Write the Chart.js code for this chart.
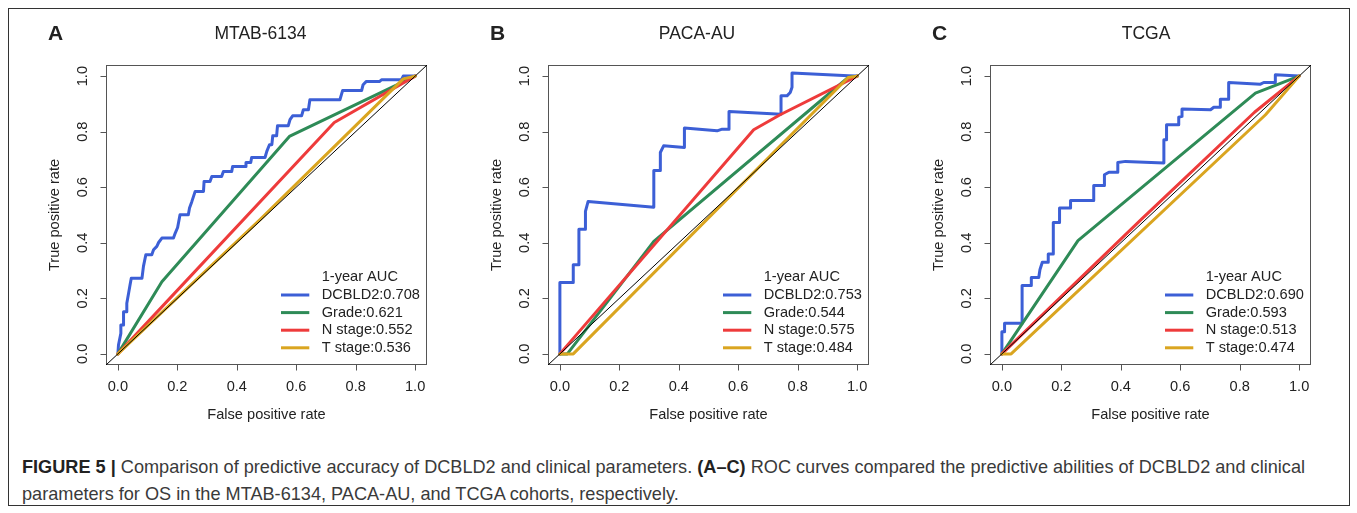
<!DOCTYPE html>
<html>
<head>
<meta charset="utf-8">
<script src="https://cdn.jsdelivr.net/npm/chart.js@4.4.1/dist/chart.umd.min.js"></script>
<style>
  html, body { margin: 0; padding: 0; background: #fff; }
  body { width: 1357px; height: 513px; position: relative; overflow: hidden; }
  #frame { position: absolute; left: 8px; top: 8px; width: 1342px; height: 498px; border: 1px solid #333; box-sizing: border-box; }
  canvas.panel { position: absolute; top: 8px; }
  .caption { position: absolute; left: 22px; font-family: "Liberation Sans Narrow", "Liberation Sans", Arial, sans-serif;
             font-size: 18.5px; color: #3a3a3a; white-space: nowrap; transform-origin: 0 50%; line-height: 20px; }
  .caption b { color: #222; }
</style>
</head>
<body>
<div id="frame"></div>
<canvas class="panel" id="panelA" width="442" height="432" style="left:8px"></canvas>
<canvas class="panel" id="panelB" width="442" height="432" style="left:450px"></canvas>
<canvas class="panel" id="panelC" width="442" height="432" style="left:892px"></canvas>
<div class="caption" id="cap1" style="top:457px"><b>FIGURE 5 |</b> Comparison of predictive accuracy of DCBLD2 and clinical parameters. <b>(A–C)</b> ROC curves compared the predictive abilities of DCBLD2 and clinical</div>
<div class="caption" id="cap2" style="top:484px">parameters for OS in the MTAB-6134, PACA-AU, and TCGA cohorts, respectively.</div>

<script>
// ---- data ----
const tickValues = [0, 0.2, 0.4, 0.6, 0.8, 1.0];
const tickLabels = ['0.0', '0.2', '0.4', '0.6', '0.8', '1.0'];
const seriesNames = ['DCBLD2', 'Grade', 'N stage', 'T stage'];
const panelLetters = ['A', 'B', 'C'];
const panelTitles = ['MTAB-6134', 'PACA-AU', 'TCGA'];
const aucMtab = [0.708, 0.621, 0.552, 0.536];
const aucPaca = [0.753, 0.544, 0.575, 0.484];
const aucTcga = [0.690, 0.593, 0.513, 0.474];
const diagLine = [[-0.04, -0.04], [1.04, 1.04]];

// MTAB-6134
const mtabDcbld2 = [[0,0],[0.002,0.032],[0.01,0.074],[0.01,0.104],[0.019,0.104],[0.019,0.152],[0.028,0.152],
  [0.030,0.182],[0.036,0.218],[0.041,0.249],[0.045,0.272],[0.081,0.272],[0.086,0.315],[0.094,0.357],
  [0.114,0.357],[0.12,0.375],[0.131,0.387],[0.137,0.401],[0.148,0.417],[0.187,0.417],[0.193,0.435],
  [0.201,0.455],[0.209,0.501],[0.237,0.501],[0.241,0.525],[0.249,0.549],[0.26,0.585],[0.288,0.585],
  [0.290,0.621],[0.31,0.621],[0.316,0.639],[0.349,0.639],[0.355,0.657],[0.383,0.657],[0.386,0.675],
  [0.428,0.675],[0.431,0.689],[0.447,0.689],[0.450,0.707],[0.495,0.707],[0.501,0.729],[0.510,0.753],
  [0.518,0.753],[0.521,0.785],[0.534,0.785],[0.537,0.821],[0.573,0.821],[0.579,0.843],[0.588,0.857],
  [0.618,0.857],[0.624,0.879],[0.641,0.879],[0.646,0.915],[0.747,0.915],[0.756,0.948],[0.820,0.948],
  [0.825,0.969],[0.836,0.981],[0.881,0.981],[0.887,0.987],[0.954,0.987],[0.960,1.0],[1,1]];
const mtabGrade = [[0,0],[0.148,0.26],[0.577,0.783],[1,1]];
const mtabNStage = [[0,0],[0.728,0.833],[1,1]];
const mtabTStage = [[0,0],[0.48,0.485],[0.96,0.99],[1,1]];

// PACA-AU
const pacaDcbld2 = [[0,0],[0,0.257],[0.045,0.257],[0.045,0.321],[0.064,0.321],[0.064,0.449],[0.086,0.449],
  [0.086,0.513],[0.095,0.549],[0.316,0.528],[0.316,0.660],[0.338,0.660],[0.338,0.725],[0.349,0.749],
  [0.419,0.743],[0.419,0.813],[0.529,0.803],[0.546,0.809],[0.569,0.809],[0.569,0.873],[0.744,0.863],
  [0.744,0.929],[0.764,0.929],[0.775,0.941],[0.781,0.96],[0.781,1.011],[0.971,1.001],[1,1]];
const pacaGrade = [[0,0],[0.025,0],[0.316,0.405],[0.97,0.995],[1,1]];
const pacaNStage = [[0,0],[0.652,0.807],[0.741,0.861],[1,1]];
const pacaTStage = [[0,0],[0.045,0],[0.97,0.995],[1,1]];

// TCGA
const tcgaDcbld2 = [[0,0],[0,0.08],[0.009,0.08],[0.009,0.11],[0.068,0.11],[0.068,0.246],[0.099,0.246],
  [0.099,0.275],[0.124,0.275],[0.128,0.303],[0.136,0.33],[0.156,0.33],[0.156,0.36],[0.173,0.36],
  [0.173,0.473],[0.194,0.473],[0.194,0.525],[0.231,0.525],[0.231,0.552],[0.309,0.552],[0.309,0.606],
  [0.345,0.606],[0.345,0.645],[0.36,0.654],[0.388,0.654],[0.390,0.689],[0.416,0.693],[0.545,0.687],
  [0.545,0.771],[0.554,0.771],[0.554,0.825],[0.593,0.825],[0.595,0.852],[0.606,0.855],[0.606,0.882],
  [0.702,0.879],[0.713,0.888],[0.735,0.888],[0.735,0.917],[0.763,0.917],[0.763,0.977],[0.87,0.971],
  [0.881,0.977],[0.92,0.977],[0.92,1.005],[1,1]];
const tcgaGrade = [[0,0],[0.256,0.408],[0.853,0.939],[1,1]];
const tcgaNStage = [[0,0],[0.47,0.485],[0.85,0.87],[1,1]];
const tcgaTStage = [[0,0],[0.031,0],[0.887,0.861],[1,1]];

// ---- styling ----
const seriesColors = ['#3c5fd6', '#2e8b57', '#ee3b3b', '#daa520'];
const FONT = "'Liberation Sans', Arial, sans-serif";
const BOX = { left: 98, right: 23, top: 57, bottom: 75 };
const titleCenters = [252.5, 247, 254]; // title centre, canvas coordinates

// 画 R 风格的坐标框、刻度、标签和图例
const rStyle = {
    id: 'rStyle',
    beforeDatasetsDraw(chart) {
        const { ctx, chartArea: a } = chart;
        ctx.save();
        ctx.strokeStyle = '#555';
        ctx.lineWidth = 1;
        ctx.strokeRect(a.left + 0.5, a.top + 0.5, a.right - a.left - 1, a.bottom - a.top - 1);
        ctx.restore();
    },
    afterDraw(chart, args, opts) {
        const { ctx, chartArea: a, scales } = chart;
        const x = scales.x, y = scales.y;
        ctx.save();
        ctx.strokeStyle = '#555';
        ctx.lineWidth = 1;
        ctx.fillStyle = '#222';
        ctx.font = '14.6px ' + FONT;
        ctx.textAlign = 'center';
        ctx.textBaseline = 'middle';

        // x 轴
        const xb = Math.round(a.bottom) - 0.5;
        ctx.beginPath();
        ctx.moveTo(x.getPixelForValue(tickValues[0]), xb);
        ctx.lineTo(x.getPixelForValue(tickValues[tickValues.length - 1]), xb);
        tickValues.forEach(v => {
            const px = Math.round(x.getPixelForValue(v)) + 0.5;
            ctx.moveTo(px, xb);
            ctx.lineTo(px, xb + 6);
        });
        ctx.stroke();
        tickValues.forEach((v, i) => ctx.fillText(tickLabels[i], x.getPixelForValue(v), a.bottom + 22));
        ctx.fillText('False positive rate', (a.left + a.right) / 2, a.bottom + 50);

        // y 轴 (标签旋转)
        const yl = Math.round(a.left) + 0.5;
        ctx.beginPath();
        ctx.moveTo(yl, y.getPixelForValue(tickValues[0]));
        ctx.lineTo(yl, y.getPixelForValue(tickValues[tickValues.length - 1]));
        tickValues.forEach(v => {
            const py = Math.round(y.getPixelForValue(v)) + 0.5;
            ctx.moveTo(yl, py);
            ctx.lineTo(yl - 6, py);
        });
        ctx.stroke();
        tickValues.forEach((v, i) => {
            ctx.save();
            ctx.translate(a.left - 22.7, y.getPixelForValue(v));
            ctx.rotate(-Math.PI / 2);
            ctx.fillText(tickLabels[i], 0, 0);
            ctx.restore();
        });
        ctx.save();
        ctx.translate(a.left - 51, (a.top + a.bottom) / 2);
        ctx.rotate(-Math.PI / 2);
        ctx.fillText('True positive rate', 0, 0);
        ctx.restore();

        // 标题
        ctx.font = '17.5px ' + FONT;
        ctx.fillText(opts.title, opts.titleX, 26);
        ctx.font = 'bold 21px ' + FONT;
        ctx.textAlign = 'left';
        ctx.fillText(opts.letter, a.left - 58, 26);

        // 图例
        ctx.font = '14.6px ' + FONT;
        const tx = a.right - 105.3;
        ctx.fillText('1-year AUC', tx, a.top + 212);
        chart.data.datasets.forEach((ds, i) => {
            if (!ds.legendText) return;
            const ry = a.top + 230 + i * 17.6;
            ctx.strokeStyle = ds.borderColor;
            ctx.lineWidth = 3;
            ctx.beginPath();
            ctx.moveTo(a.right - 146, ry);
            ctx.lineTo(a.right - 117.7, ry);
            ctx.stroke();
            ctx.fillText(ds.legendText, tx, ry);
        });
        ctx.restore();
    }
};

function toPoints(pairs) {
    return pairs.map(p => ({ x: p[0], y: p[1] }));
}

function makePanel(canvasId, idx, seriesList, aucs) {
    const datasets = seriesList.map((s, i) => ({
        data: toPoints(s),
        legendText: seriesNames[i] + ':' + aucs[i].toFixed(3),
        borderColor: seriesColors[i],
        borderWidth: 3,
        borderJoinStyle: 'round',
        borderCapStyle: 'round',
        pointRadius: 0,
        tension: 0,
        order: 4 - i
    }));
    datasets.push({
        data: toPoints(diagLine),
        borderColor: '#000',
        borderWidth: 1,
        pointRadius: 0,
        order: 0
    });

    new Chart(document.getElementById(canvasId), {
        type: 'line',
        data: { datasets: datasets },
        options: {
            responsive: false,
            animation: false,
            devicePixelRatio: 1,
            events: [],
            layout: { padding: BOX },
            scales: {
                x: { type: 'linear', min: -0.04, max: 1.04, display: false },
                y: { type: 'linear', min: -0.04, max: 1.04, display: false }
            },
            plugins: {
                legend: { display: false },
                tooltip: { enabled: false },
                rStyle: {
                    letter: panelLetters[idx],
                    title: panelTitles[idx],
                    titleX: titleCenters[idx]
                }
            }
        },
        plugins: [rStyle]
    });
}

makePanel('panelA', 0, [mtabDcbld2, mtabGrade, mtabNStage, mtabTStage], aucMtab);
makePanel('panelB', 1, [pacaDcbld2, pacaGrade, pacaNStage, pacaTStage], aucPaca);
makePanel('panelC', 2, [tcgaDcbld2, tcgaGrade, tcgaNStage, tcgaTStage], aucTcga);

// 题注宽度对齐原图
const cap1 = document.getElementById('cap1');
const cap2 = document.getElementById('cap2');
const k = 1283 / cap1.getBoundingClientRect().width;
cap1.style.transform = 'scaleX(' + k + ')';
cap2.style.transform = 'scaleX(' + k + ')';
</script>
</body>
</html>
